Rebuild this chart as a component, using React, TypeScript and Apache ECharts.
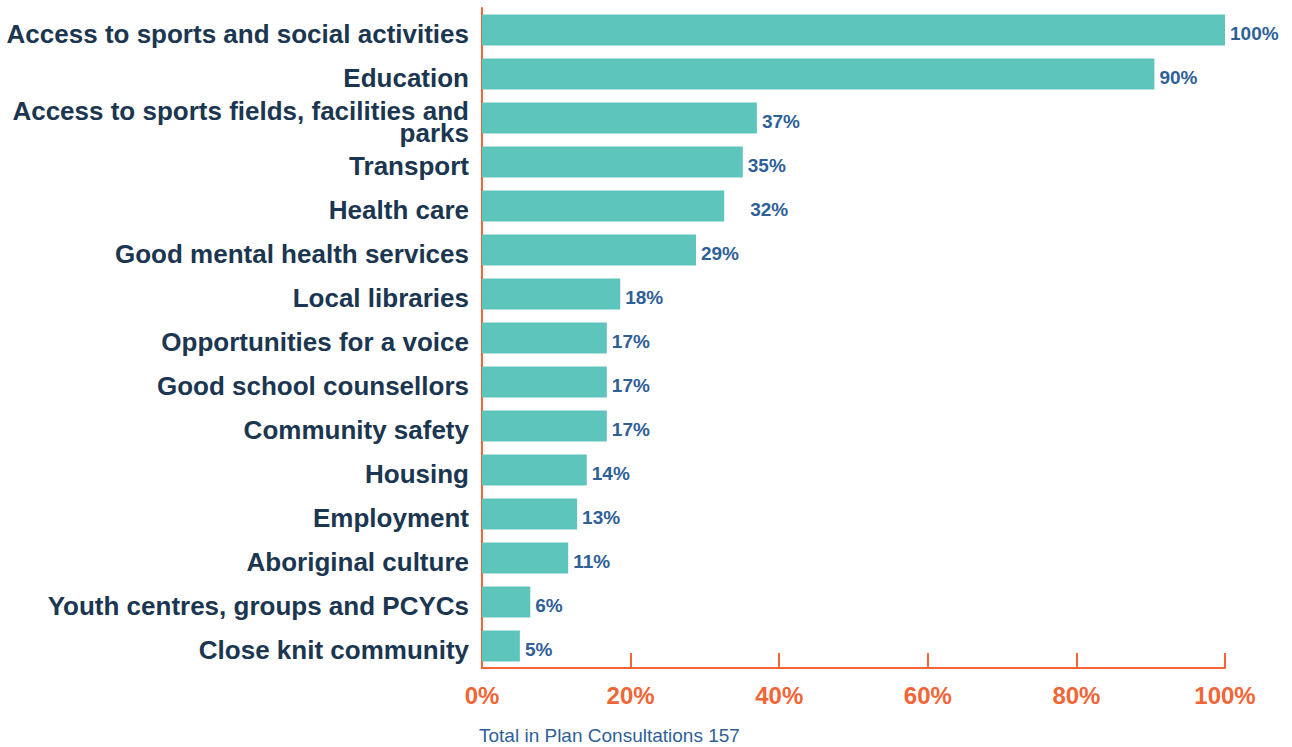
import React, { useEffect, useRef } from "react";
import * as echarts from "echarts";

const categories = [
  "Access to sports and social activities",
  "Education",
  "Access to sports fields, facilities and parks",
  "Transport",
  "Health care",
  "Good mental health services",
  "Local libraries",
  "Opportunities for a voice",
  "Good school counsellors",
  "Community safety",
  "Housing",
  "Employment",
  "Aboriginal culture",
  "Youth centres, groups and PCYCs",
  "Close knit community",
];
const values = [100, 90.5, 37, 35.1, 32.6, 28.8, 18.6, 16.8, 16.8, 16.8, 14.1, 12.8, 11.6, 6.5, 5.1];
const valueLabels = ["100%", "90%", "37%", "35%", "32%", "29%", "18%", "17%", "17%", "17%", "14%", "13%", "11%", "6%", "5%"];
const xTicks = [0, 20, 40, 60, 80, 100];
const caption = "Total in Plan Consultations 157";

const ORANGE = "#f26536";
const TEAL = "#5dc5bb";
const BLUE = "#2f5f97";
const NAVY = "#1b3650";
const SANS = "'Liberation Sans', Arial, sans-serif";

function wrap(text: string, maxChars: number): string[] {
  const words = text.split(" ");
  const lines: string[] = [];
  let cur = "";
  for (const w of words) {
    const next = cur ? cur + " " + w : w;
    if (next.length > maxChars && cur) {
      lines.push(cur);
      cur = w;
    } else {
      cur = next;
    }
  }
  if (cur) lines.push(cur);
  return lines;
}

export default function App() {
  const ref = useRef<HTMLDivElement>(null);
  useEffect(() => {
    if (!ref.current) return;
    const chart = echarts.init(ref.current, undefined, { renderer: "svg" });
    chart.setOption({
      animation: false,
      backgroundColor: "#ffffff",
      title: {
        text: caption,
        left: 479,
        top: 726,
        padding: 0,
        textStyle: { fontFamily: SANS, fontSize: 19, lineHeight: 19, fontWeight: "normal", color: BLUE },
      },
      grid: { left: 482, right: 67, top: 8, bottom: 79, containLabel: false },
      xAxis: {
        type: "value",
        min: xTicks[0],
        max: xTicks[xTicks.length - 1],
        interval: 20,
        axisLine: { show: true, lineStyle: { color: ORANGE, width: 2 } },
        axisTick: { show: true, inside: true, length: 15, lineStyle: { color: ORANGE, width: 2 } },
        splitLine: { show: false },
        axisLabel: {
          margin: 15,
          formatter: (v: number) => v + "%",
          color: ORANGE,
          fontFamily: SANS,
          fontWeight: "bold",
          fontSize: 24,
        },
      },
      yAxis: {
        type: "category",
        data: categories,
        inverse: true,
        axisLine: { show: true, lineStyle: { color: ORANGE, width: 2 } },
        axisTick: { show: false },
        axisLabel: {
          margin: 13,
          color: NAVY,
          fontFamily: SANS,
          fontWeight: "bold",
          fontSize: 26,
          lineHeight: 22,
          align: "right",
          formatter: (v: string) => wrap(v, 40).map((l) => "{a|" + l + "}").join("\n"),
          rich: {
            a: {
              color: NAVY,
              fontFamily: SANS,
              fontWeight: "bold",
              fontSize: 26,
              lineHeight: 22,
              padding: [7, 0, 0, 0],
            },
          },
        },
      },
      series: [
        {
          type: "bar",
          data: values.map((v, i) => ({
            value: v,
            label: i === 4 ? { distance: 26 } : undefined,
          })),
          barCategoryGap: "30%",
          itemStyle: { color: TEAL },
          label: {
            show: true,
            position: "right",
            distance: 5,
            offset: [0, 3],
            formatter: (p: any) => valueLabels[p.dataIndex],
            color: BLUE,
            fontFamily: SANS,
            fontWeight: "bold",
            fontSize: 19,
          },
        },
      ],
    });
    return () => chart.dispose();
  }, []);
  return <div ref={ref} style={{ position: "fixed", left: 0, top: 0, width: 1292, height: 747 }} />;
}
